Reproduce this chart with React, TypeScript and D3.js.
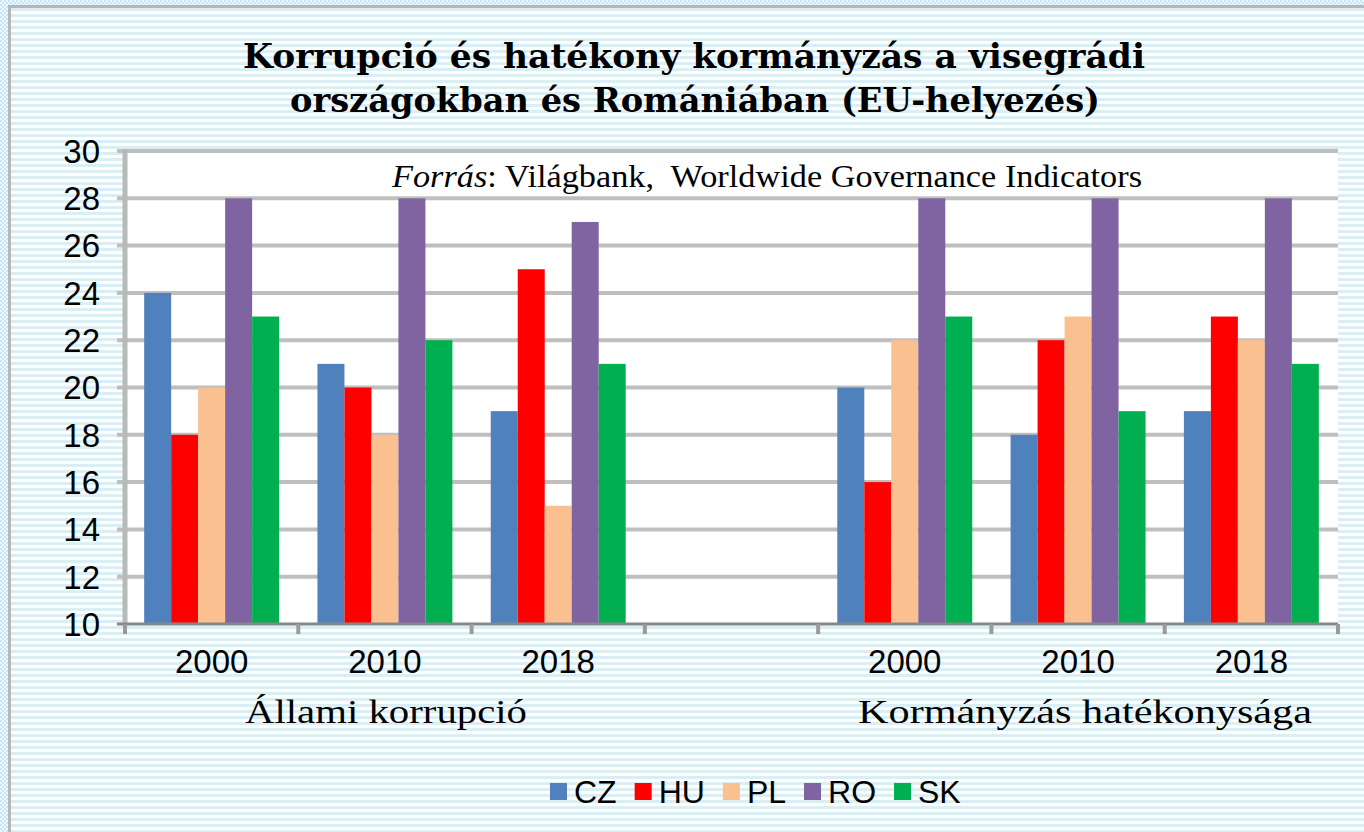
import React, { useEffect, useRef } from "react";
import * as d3 from "d3";

// chart data
const categories = ["2000", "2010", "2018", "", "2000", "2010", "2018"];
const series = ["CZ", "HU", "PL", "RO", "SK"];
const colors = ["#4F81BD", "#FF0000", "#FAC090", "#8064A2", "#00B050"];
const valuesCZ = [24, 21, 19, null, 20, 18, 19];
const valuesHU = [18, 20, 25, null, 16, 22, 23];
const valuesPL = [20, 18, 15, null, 22, 23, 22];
const valuesRO = [28, 28, 27, null, 28, 28, 28];
const valuesSK = [23, 22, 21, null, 23, 19, 21];
const yTicks = [10, 12, 14, 16, 18, 20, 22, 24, 26, 28, 30];
const groupLabels = ["Állami korrupció", "Kormányzás hatékonysága"];
const titleLines = [
  "Korrupció és hatékony kormányzás a visegrádi",
  "országokban és Romániában (EU-helyezés)",
];

const App = () => {
  const svgRef = useRef<SVGSVGElement>(null);

  useEffect(() => {
    const width = 1364;
    const height = 832;
    const svg = d3.select(svgRef.current);
    svg.selectAll("*").remove();
    svg.attr("width", width).attr("height", height);

    const allValues = [valuesCZ, valuesHU, valuesPL, valuesRO, valuesSK];

    // patterns for the background
    const defs = svg.append("defs");
    const stripes = defs
      .append("pattern")
      .attr("id", "stripes")
      .attr("patternUnits", "userSpaceOnUse")
      .attr("width", 6)
      .attr("height", 6);
    stripes.append("rect").attr("width", 6).attr("height", 6).attr("fill", "#ffffff");
    stripes.append("rect").attr("y", 2).attr("width", 6).attr("height", 3).attr("fill", "#DAEEF3");

    const checker = defs
      .append("pattern")
      .attr("id", "checker")
      .attr("patternUnits", "userSpaceOnUse")
      .attr("width", 4)
      .attr("height", 4);
    checker.append("rect").attr("width", 4).attr("height", 4).attr("fill", "#eef7fd");
    checker.append("rect").attr("width", 2).attr("height", 2).attr("fill", "#c6e4fa");
    checker.append("rect").attr("x", 2).attr("y", 2).attr("width", 2).attr("height", 2).attr("fill", "#c6e4fa");

    svg.append("rect").attr("width", width).attr("height", height).attr("fill", "url(#checker)");
    svg.append("rect").attr("x", 8).attr("y", 5).attr("width", width - 8).attr("height", height - 5).attr("fill", "#b8b8b8");
    svg.append("rect").attr("x", 11).attr("y", 8).attr("width", width - 11).attr("height", height - 8).attr("fill", "url(#stripes)");

    // scales
    const left = 125;
    const right = 1338;
    const x = d3.scaleBand<number>().domain(d3.range(categories.length)).range([left, right]).padding(0);
    const xs = d3.scaleBand<number>().domain(d3.range(series.length)).range([0, x.bandwidth()]).paddingInner(0).paddingOuter(0.71);
    const y = d3.scaleLinear().domain([10, 30]).range([624, 151]);

    // plot area
    svg.append("rect")
      .attr("x", left)
      .attr("y", y(30))
      .attr("width", right - left)
      .attr("height", y(10) - y(30))
      .attr("fill", "#ffffff");

    // gridlines
    svg.append("g")
      .selectAll("line")
      .data(yTicks.filter((t) => t > 10))
      .join("line")
      .attr("x1", left - 8)
      .attr("x2", right)
      .attr("y1", (d) => y(d))
      .attr("y2", (d) => y(d))
      .attr("stroke", "#bfbfbf")
      .attr("stroke-width", 4);

    // bars
    series.forEach((s, si) => {
      svg.append("g")
        .selectAll("rect")
        .data(allValues[si].map((v, i) => ({ v, i })).filter((d) => d.v != null))
        .join("rect")
        .attr("x", (d) => x(d.i)! + xs(si)!)
        .attr("width", xs.bandwidth())
        .attr("y", (d) => y(d.v as number))
        .attr("height", (d) => y(10) - y(d.v as number))
        .attr("fill", colors[si]);
    });

    // left axis line
    svg.append("line")
      .attr("x1", left)
      .attr("x2", left)
      .attr("y1", y(30) - 2)
      .attr("y2", y(10))
      .attr("stroke", "#b9b9b9")
      .attr("stroke-width", 5);

    // bottom axis
    svg.append("line")
      .attr("x1", left - 8)
      .attr("x2", right)
      .attr("y1", y(10))
      .attr("y2", y(10))
      .attr("stroke", "#878787")
      .attr("stroke-width", 3);
    svg.append("g")
      .selectAll("line")
      .data(d3.range(categories.length + 1))
      .join("line")
      .attr("x1", (d) => left + d * x.step())
      .attr("x2", (d) => left + d * x.step())
      .attr("y1", y(10))
      .attr("y2", y(10) + 10)
      .attr("stroke", "#9a9a9a")
      .attr("stroke-width", 4);

    // y tick labels
    svg.append("g")
      .selectAll("text")
      .data(yTicks)
      .join("text")
      .attr("x", 100)
      .attr("y", (d) => y(d))
      .attr("dy", "0.36em")
      .attr("text-anchor", "end")
      .style("font", "33px 'Liberation Sans', Arial, sans-serif")
      .attr("fill", "#000")
      .text((d) => d);

    // x category labels
    svg.append("g")
      .selectAll("text")
      .data(categories.map((c, i) => ({ c, i })))
      .join("text")
      .attr("x", (d) => x(d.i)! + x.bandwidth() / 2)
      .attr("y", 673)
      .attr("text-anchor", "middle")
      .style("font", "33px 'Liberation Sans', Arial, sans-serif")
      .attr("fill", "#000")
      .text((d) => d.c);

    // group labels
    const serifFont = "33px 'Liberation Serif', 'Times New Roman', serif";
    svg.append("text")
      .attr("x", 245)
      .attr("y", 723)
      .attr("textLength", 282)
      .attr("lengthAdjust", "spacingAndGlyphs")
      .style("font", serifFont)
      .text(groupLabels[0]);
    svg.append("text")
      .attr("x", 858)
      .attr("y", 723)
      .attr("textLength", 454)
      .attr("lengthAdjust", "spacingAndGlyphs")
      .style("font", serifFont)
      .text(groupLabels[1]);

    // source note
    const src = svg.append("text")
      .attr("x", 392)
      .attr("y", 187)
      .attr("textLength", 750)
      .attr("lengthAdjust", "spacingAndGlyphs")
      .style("font", "32px 'Liberation Serif', 'Times New Roman', serif");
    src.append("tspan").style("font-style", "italic").text("Forrás");
    src.append("tspan").text(": Világbank,\u00a0 Worldwide Governance Indicators");

    // title
    svg.append("text")
      .attr("x", 243)
      .attr("y", 68)
      .attr("textLength", 902)
      .attr("lengthAdjust", "spacingAndGlyphs")
      .style("font", "bold 34px 'DejaVu Serif', serif")
      .text(titleLines[0]);
    svg.append("text")
      .attr("x", 290)
      .attr("y", 112)
      .attr("textLength", 810)
      .attr("lengthAdjust", "spacingAndGlyphs")
      .style("font", "bold 34px 'DejaVu Serif', serif")
      .text(titleLines[1]);

    // legend
    const legend = svg.append("g");
    let lx = 550;
    series.forEach((s, si) => {
      legend.append("rect")
        .attr("x", lx)
        .attr("y", 783)
        .attr("width", 17)
        .attr("height", 17)
        .attr("fill", colors[si]);
      const t = legend.append("text")
        .attr("x", lx + 24)
        .attr("y", 803)
        .style("font", "32px 'Liberation Sans', Arial, sans-serif")
        .text(s);
      const w = (t.node() as SVGTextElement).getComputedTextLength();
      lx = lx + 24 + w + 18;
    });
  }, []);

  return <svg ref={svgRef} style={{ position: "absolute", left: 0, top: 0 }}></svg>;
};

export default App;
